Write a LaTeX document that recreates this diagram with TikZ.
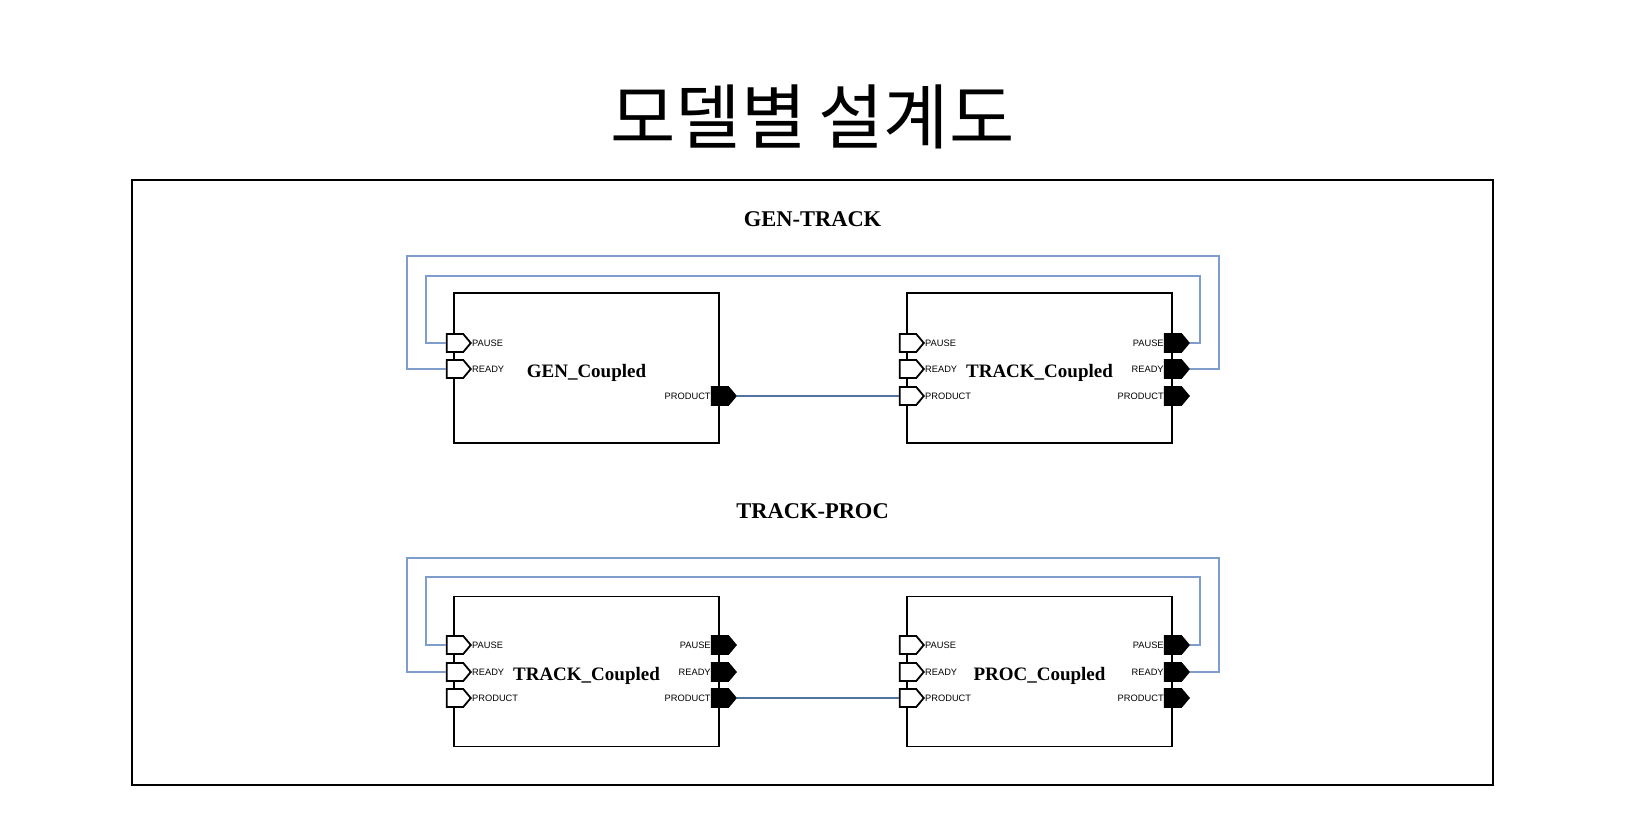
\documentclass[tikz,border=0pt]{standalone}
\usepackage{fontspec}
\setmainfont{Liberation Serif}
\newfontfamily\krfont{Noto Sans CJK KR}
\newfontfamily\portfont{Liberation Sans}
\usepackage{tikz}
\usetikzlibrary{shapes.symbols}
\definecolor{loopblue}{RGB}{126,156,204}
\definecolor{linkblue}{RGB}{80,115,160}
\tikzset{
  inport/.style={signal,signal to=east,signal pointer angle=100,draw,line width=1.8pt,
    fill=white,minimum width=24pt,minimum height=18pt,inner sep=0pt,label distance=3pt},
  outport/.style={inport,fill=black},
  plabel/.style={font=\portfont\fontsize{9.3}{10}\selectfont,inner sep=0pt},
  model/.style={draw,line width=1.1pt,minimum width=265pt,minimum height=150pt,
    text height=22pt,text depth=4pt,font=\bfseries\fontsize{19}{21}\selectfont},
  loopline/.style={loopblue,line width=1.3pt},
  linkline/.style={linkblue,line width=1.1pt},
  section/.style={anchor=base,font=\bfseries\fontsize{22.5}{24}\selectfont}
}
\begin{document}
\begin{tikzpicture}[x=1pt,y=-1pt]
\useasboundingbox (0,0) rectangle (1625,813);
\node[anchor=base,font=\krfont\fontsize{71}{73}\selectfont] (title) at (812.5,144) {모델별\hspace{12pt}설계도};
\draw[line width=2pt] (132,180) rectangle (1493,785);

\node[section] (gentrack) at (812.5,226) {GEN-TRACK};
\node[model] (gen) at (586.5,368) {GEN\_Coupled};
\node[model] (trka) at (1039.5,368) {TRACK\_Coupled};
\coordinate (gtouter1) at (1219,256);
\coordinate (gtouter2) at (407,256);
\coordinate (gtinner1) at (1200,276);
\coordinate (gtinner2) at (426,276);
\node[inport,label={[plabel]east:PAUSE}] (genpausein) at (455,343) {};
\node[inport,label={[plabel]east:READY}] (genreadyin) at (455,369) {};
\node[outport,label={[plabel]west:PRODUCT}] (genprodout) at (720,396) {};
\node[inport,label={[plabel]east:PAUSE}] (trkapausein) at (908,343) {};
\node[inport,label={[plabel]east:READY}] (trkareadyin) at (908,369) {};
\node[inport,label={[plabel]east:PRODUCT}] (trkaprodin) at (908,396) {};
\node[outport,label={[plabel]west:PAUSE}] (trkapauseout) at (1173,343) {};
\node[outport,label={[plabel]west:READY}] (trkareadyout) at (1173,369) {};
\node[outport,label={[plabel]west:PRODUCT}] (trkaprodout) at (1173,396) {};
\draw[loopline] (trkareadyout.east) -| (gtouter1) -- (gtouter2) |- (genreadyin.west);
\draw[loopline] (trkapauseout.east) -| (gtinner1) -- (gtinner2) |- (genpausein.west);
\draw[linkline] (genprodout.east) -- (trkaprodin.west);

\node[section] (trackproc) at (812.5,518) {TRACK-PROC};
\node[model] (trkb) at (586.5,671.5) {TRACK\_Coupled};
\node[model] (proc) at (1039.5,671.5) {PROC\_Coupled};
\coordinate (tpouter1) at (1219,558);
\coordinate (tpouter2) at (407,558);
\coordinate (tpinner1) at (1200,577);
\coordinate (tpinner2) at (426,577);
\node[inport,label={[plabel]east:PAUSE}] (trkbpausein) at (455,645) {};
\node[inport,label={[plabel]east:READY}] (trkbreadyin) at (455,672) {};
\node[inport,label={[plabel]east:PRODUCT}] (trkbprodin) at (455,698) {};
\node[outport,label={[plabel]west:PAUSE}] (trkbpauseout) at (720,645) {};
\node[outport,label={[plabel]west:READY}] (trkbreadyout) at (720,672) {};
\node[outport,label={[plabel]west:PRODUCT}] (trkbprodout) at (720,698) {};
\node[inport,label={[plabel]east:PAUSE}] (procpausein) at (908,645) {};
\node[inport,label={[plabel]east:READY}] (procreadyin) at (908,672) {};
\node[inport,label={[plabel]east:PRODUCT}] (procprodin) at (908,698) {};
\node[outport,label={[plabel]west:PAUSE}] (procpauseout) at (1173,645) {};
\node[outport,label={[plabel]west:READY}] (procreadyout) at (1173,672) {};
\node[outport,label={[plabel]west:PRODUCT}] (procprodout) at (1173,698) {};
\draw[loopline] (procreadyout.east) -| (tpouter1) -- (tpouter2) |- (trkbreadyin.west);
\draw[loopline] (procpauseout.east) -| (tpinner1) -- (tpinner2) |- (trkbpausein.west);
\draw[linkline] (trkbprodout.east) -- (procprodin.west);
\end{tikzpicture}
\end{document}
